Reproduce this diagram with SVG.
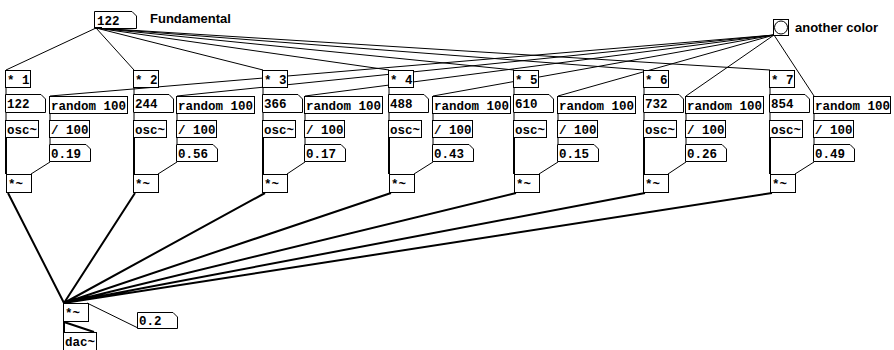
<svg xmlns="http://www.w3.org/2000/svg" width="894" height="350" viewBox="0 0 894 350">
<style>
.b{fill:#fff;stroke:#000;stroke-width:1}
.t{font-family:"Liberation Mono",monospace;font-weight:bold;font-size:12.5px;fill:#000}
.l{font-family:"Liberation Sans",Arial,sans-serif;font-weight:bold;font-size:13px;fill:#000}
.c{stroke:#000;stroke-width:1;fill:none}
.s{stroke:#000;stroke-width:2;fill:none}
.io{fill:#000}
</style>
<rect width="894" height="350" fill="#fff"/>
<g id="connectors">
<path class="c" d="M96 28L6 70M96 28L134 70M96 28L263 70M96 28L389 70M96 28L514 70M96 28L644 70M96 28L770 70"/>
<path class="c" d="M774 35L50 96M774 35L177 96M774 35L305 96M774 35L433 96M774 35L558 96M774 35L686 96M774 35L814 96"/>
<path class="c" d="M6 88V95M6 113V120M50 114V120M50 138V144M50 162L31 174"/>
<path class="c" d="M134 88V95M134 113V120M177 114V120M177 138V144M177 162L158 174"/>
<path class="c" d="M263 88V95M263 113V120M305 114V120M305 138V144M305 162L287 174"/>
<path class="c" d="M389 88V95M389 113V120M433 114V120M433 138V144M433 162L414 174"/>
<path class="c" d="M514 88V95M514 113V120M558 114V120M558 138V144M558 162L539 174"/>
<path class="c" d="M644 88V95M644 113V120M686 114V120M686 138V144M686 162L668 174"/>
<path class="c" d="M770 88V95M770 113V120M814 114V120M814 138V144M814 162L795 174"/>
<path class="s" d="M6 138V174M134 138V174M263 138V174M389 138V174M514 138V174M644 138V174M770 138V174"/>
<path class="s" d="M8 193L64 303M135 193L64 303M265 193L64 303M391 193L64 303M516 193L64 303M645 193L64 303M772 193L64 303"/>
<path class="s" d="M64 322V332M64 322L94 332"/>
<path class="c" d="M138 328L87 303"/>
</g>
<g id="fundamental">
<path class="b" d="M94.5 11.5H132L136.5 16V28.5H94.5Z"/>
<text class="t" x="97" y="25">122</text>
<rect class="io" x="95" y="27" width="7" height="2"/>
<text class="l" x="150" y="23">Fundamental</text>
</g>
<g id="bang">
<rect class="b" x="773.5" y="19.5" width="15" height="16"/>
<circle class="b" cx="781" cy="27.5" r="6.5"/>
<text class="l" x="795" y="32">another color</text>
</g>
<g id="col1">
<rect class="b" x="5.5" y="70.5" width="25" height="17"/><text class="t" x="7" y="84">* 1</text>
<path class="b" d="M5.5 94.5H41L45.5 99V112.5H5.5Z"/><text class="t" x="7" y="108">122</text>
<rect class="b" x="49.5" y="96.5" width="78" height="17"/><text class="t" x="51" y="110">random 100</text>
<rect class="b" x="5.5" y="120.5" width="33" height="17"/><text class="t" x="7" y="134">osc~</text>
<rect class="b" x="49.5" y="120.5" width="40" height="17"/><text class="t" x="51" y="134">/ 100</text>
<path class="b" d="M49.5 144.5H86L90.5 149V161.5H49.5Z"/><text class="t" x="51" y="158">0.19</text>
<rect class="b" x="6.5" y="174.5" width="25" height="18"/><text class="t" x="8" y="188">*~</text>
</g>
<g id="col2">
<rect class="b" x="133.5" y="70.5" width="25" height="17"/><text class="t" x="135" y="84">* 2</text>
<path class="b" d="M133.5 94.5H169L173.5 99V112.5H133.5Z"/><text class="t" x="135" y="108">244</text>
<rect class="b" x="176.5" y="96.5" width="78" height="17"/><text class="t" x="178" y="110">random 100</text>
<rect class="b" x="133.5" y="120.5" width="33" height="17"/><text class="t" x="135" y="134">osc~</text>
<rect class="b" x="176.5" y="120.5" width="40" height="17"/><text class="t" x="178" y="134">/ 100</text>
<path class="b" d="M176.5 144.5H213L217.5 149V161.5H176.5Z"/><text class="t" x="178" y="158">0.56</text>
<rect class="b" x="133.5" y="174.5" width="25" height="18"/><text class="t" x="135" y="188">*~</text>
</g>
<g id="col3">
<rect class="b" x="262.5" y="70.5" width="25" height="17"/><text class="t" x="264" y="84">* 3</text>
<path class="b" d="M262.5 94.5H298L302.5 99V112.5H262.5Z"/><text class="t" x="264" y="108">366</text>
<rect class="b" x="304.5" y="96.5" width="78" height="17"/><text class="t" x="306" y="110">random 100</text>
<rect class="b" x="262.5" y="120.5" width="33" height="17"/><text class="t" x="264" y="134">osc~</text>
<rect class="b" x="304.5" y="120.5" width="40" height="17"/><text class="t" x="306" y="134">/ 100</text>
<path class="b" d="M304.5 144.5H341L345.5 149V161.5H304.5Z"/><text class="t" x="306" y="158">0.17</text>
<rect class="b" x="262.5" y="174.5" width="25" height="18"/><text class="t" x="264" y="188">*~</text>
</g>
<g id="col4">
<rect class="b" x="388.5" y="70.5" width="25" height="17"/><text class="t" x="390" y="84">* 4</text>
<path class="b" d="M388.5 94.5H424L428.5 99V112.5H388.5Z"/><text class="t" x="390" y="108">488</text>
<rect class="b" x="432.5" y="96.5" width="78" height="17"/><text class="t" x="434" y="110">random 100</text>
<rect class="b" x="388.5" y="120.5" width="33" height="17"/><text class="t" x="390" y="134">osc~</text>
<rect class="b" x="432.5" y="120.5" width="40" height="17"/><text class="t" x="434" y="134">/ 100</text>
<path class="b" d="M432.5 144.5H469L473.5 149V161.5H432.5Z"/><text class="t" x="434" y="158">0.43</text>
<rect class="b" x="389.5" y="174.5" width="25" height="18"/><text class="t" x="391" y="188">*~</text>
</g>
<g id="col5">
<rect class="b" x="513.5" y="70.5" width="25" height="17"/><text class="t" x="515" y="84">* 5</text>
<path class="b" d="M513.5 94.5H549L553.5 99V112.5H513.5Z"/><text class="t" x="515" y="108">610</text>
<rect class="b" x="557.5" y="96.5" width="78" height="17"/><text class="t" x="559" y="110">random 100</text>
<rect class="b" x="513.5" y="120.5" width="33" height="17"/><text class="t" x="515" y="134">osc~</text>
<rect class="b" x="557.5" y="120.5" width="40" height="17"/><text class="t" x="559" y="134">/ 100</text>
<path class="b" d="M557.5 144.5H594L598.5 149V161.5H557.5Z"/><text class="t" x="559" y="158">0.15</text>
<rect class="b" x="514.5" y="174.5" width="25" height="18"/><text class="t" x="516" y="188">*~</text>
</g>
<g id="col6">
<rect class="b" x="643.5" y="70.5" width="25" height="17"/><text class="t" x="645" y="84">* 6</text>
<path class="b" d="M643.5 94.5H679L683.5 99V112.5H643.5Z"/><text class="t" x="645" y="108">732</text>
<rect class="b" x="685.5" y="96.5" width="78" height="17"/><text class="t" x="687" y="110">random 100</text>
<rect class="b" x="643.5" y="120.5" width="33" height="17"/><text class="t" x="645" y="134">osc~</text>
<rect class="b" x="685.5" y="120.5" width="40" height="17"/><text class="t" x="687" y="134">/ 100</text>
<path class="b" d="M685.5 144.5H722L726.5 149V161.5H685.5Z"/><text class="t" x="687" y="158">0.26</text>
<rect class="b" x="643.5" y="174.5" width="25" height="18"/><text class="t" x="645" y="188">*~</text>
</g>
<g id="col7">
<rect class="b" x="769.5" y="70.5" width="25" height="17"/><text class="t" x="771" y="84">* 7</text>
<path class="b" d="M769.5 94.5H805L809.5 99V112.5H769.5Z"/><text class="t" x="771" y="108">854</text>
<rect class="b" x="813.5" y="96.5" width="77" height="17"/><text class="t" x="815" y="110">random 100</text>
<rect class="b" x="769.5" y="120.5" width="33" height="17"/><text class="t" x="771" y="134">osc~</text>
<rect class="b" x="813.5" y="120.5" width="40" height="17"/><text class="t" x="815" y="134">/ 100</text>
<path class="b" d="M813.5 144.5H850L854.5 149V161.5H813.5Z"/><text class="t" x="815" y="158">0.49</text>
<rect class="b" x="770.5" y="174.5" width="25" height="18"/><text class="t" x="772" y="188">*~</text>
</g>
<g id="master">
<rect class="b" x="63.5" y="303.5" width="25" height="18"/><text class="t" x="65" y="317">*~</text>
</g>
<g id="volume">
<path class="b" d="M137.5 312.5H173L177.5 317V328.5H137.5Z"/><text class="t" x="139" y="325">0.2</text>
</g>
<g id="dac">
<rect class="b" x="63.5" y="332.5" width="33" height="19"/><text class="t" x="65" y="346">dac~</text>
</g>
</svg>
